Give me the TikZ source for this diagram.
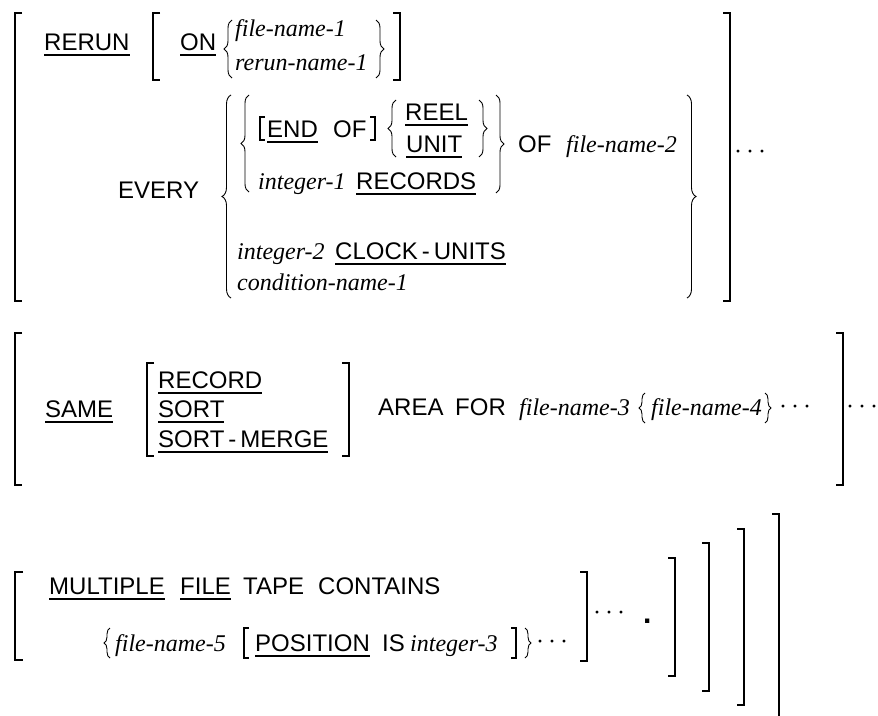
\documentclass[tikz,border=0pt]{standalone}
\usepackage{fontspec}
\setmainfont{Liberation Sans}
\newfontfamily\tmsfont{Liberation Serif}
\usetikzlibrary{decorations.pathreplacing}
\newsavebox\ulbox
\newcommand\kwu[1]{\sbox\ulbox{#1}\rlap{\rule[-5.5pt]{\wd\ulbox}{1.2pt}}\usebox\ulbox}
\newcommand\var[1]{{\tmsfont\itshape #1}}
\newcommand\contdots{{\tmsfont ·\kern4pt·\kern4pt·}}
\tikzset{
  t/.style={inner sep=0pt, anchor=base west, font=\fontsize{24}{28}\selectfont},
  brk/.style={line width=1.1pt, line join=miter},
  brc/.style={line width=0.9pt, decorate, decoration={brace, amplitude=#1}},
  brc/.default=8pt
}
\begin{document}
\begin{tikzpicture}[x=1pt,y=-1pt]
\useasboundingbox (0,0) rectangle (878,715);
% ---------- block 1 ----------
\draw[brk] (22,13) -- (15,13) -- (15,301) -- (22,301);
\draw[brk] (723,13) -- (730,13) -- (730,301) -- (723,301);
\node[t] (dots1) at (734,159) {\contdots};
\node[t] (rerun) at (44,50) {\kwu{RERUN}};
\draw[brk] (160,13) -- (153,13) -- (153,80) -- (160,80);
\node[t] (on) at (180,50) {\kwu{ON}};
\draw[brc=8pt] (232,78) -- (232,20);
\node[t] (fn1) at (235,36) {\var{file-name-1}};
\node[t] (rn1) at (235,70) {\var{rerun-name-1}};
\draw[brc=8pt] (376,20) -- (376,78);
\draw[brk] (393,13) -- (400,13) -- (400,80) -- (393,80);
\node[t] (every) at (118,198) {EVERY};
\draw[brc=9pt] (231,298) -- (231,95);
\draw[brc=8pt] (249,192) -- (249,95);
\draw[brk] (265,117) -- (260,117) -- (260,140) -- (265,140);
\node[t] (end) at (267,137) {\kwu{END}};
\node[t] (of1) at (333,137) {OF};
\draw[brk] (370,117) -- (375,117) -- (375,140) -- (370,140);
\draw[brc=8pt] (396,157) -- (396,100);
\node[t] (reel) at (405,120) {\kwu{REEL}};
\node[t] (unit) at (406,152) {\kwu{UNIT}};
\draw[brc=8pt] (479,100) -- (479,157);
\node[t] (int1) at (258,189) {\var{integer-1}};
\node[t] (records) at (356,189) {\kwu{RECORDS}};
\draw[brc=8pt] (496,95) -- (496,193);
\node[t] (of2) at (518,152) {OF};
\node[t] (fn2) at (566,152) {\var{file-name-2}};
\node[t] (int2) at (237,259) {\var{integer-2}};
\node[t] (clock) at (335,259) {\kwu{CLOCK\,-\,UNITS}};
\node[t] (cond) at (237,290) {\var{condition-name-1}};
\draw[brc=9pt] (687,95) -- (687,298);
% ---------- block 2 ----------
\draw[brk] (22,333) -- (15,333) -- (15,485) -- (22,485);
\draw[brk] (836,333) -- (843,333) -- (843,485) -- (836,485);
\node[t] (same) at (45,417) {\kwu{SAME}};
\draw[brk] (154,363) -- (147,363) -- (147,456) -- (154,456);
\node[t] (record) at (158,388) {\kwu{RECORD}};
\node[t] (sort) at (158,417) {\kwu{SORT}};
\node[t] (sortm) at (158,447) {\kwu{SORT\,-\,MERGE}};
\draw[brk] (342,363) -- (349,363) -- (349,456) -- (342,456);
\node[t] (area) at (378,415) {AREA};
\node[t] (for) at (455,415) {FOR};
\node[t] (fn3) at (519,415) {\var{file-name-3}};
\draw[brc=6pt] (645,423) -- (645,393);
\node[t] (fn4) at (651,415) {\var{file-name-4}};
\draw[brc=6pt] (765,393) -- (765,423);
\node[t] (dots2) at (779,414) {\contdots};
\node[t] (dots3) at (846,414) {\contdots};
% ---------- block 3 ----------
\draw[brk] (23,572) -- (15,572) -- (15,660) -- (23,660);
\node[t] (mult) at (49,594) {\kwu{MULTIPLE}};
\node[t] (file) at (180,594) {\kwu{FILE}};
\node[t] (tape) at (243,594) {TAPE};
\node[t] (contains) at (318,594) {CONTAINS};
\draw[brc=6pt] (110,658) -- (110,628);
\node[t] (fn5) at (115,651) {\var{file-name-5}};
\draw[brk] (249,628) -- (244,628) -- (244,658) -- (249,658);
\node[t] (position) at (255,651) {\kwu{POSITION}};
\node[t] (is) at (382,651) {IS};
\node[t] (int3) at (410,651) {\var{integer-3}};
\draw[brk] (511,628) -- (516,628) -- (516,658) -- (511,658);
\draw[brc=6pt] (525,628) -- (525,658);
\node[t] (dots4) at (536,649) {\contdots};
\draw[brk] (580,572) -- (587,572) -- (587,661) -- (580,661);
\node[t] (dots5) at (593,620) {\contdots};
\node[t, font=\fontsize{30}{30}\selectfont\bfseries] (period) at (643,623) {.};
\draw[brk] (668,558) -- (675,558) -- (675,676) -- (668,676);
\draw[brk] (702,543) -- (709,543) -- (709,691) -- (702,691);
\draw[brk] (737,529) -- (744,529) -- (744,705) -- (737,705);
\draw[brk] (772,514) -- (779,514) -- (779,716);
\end{tikzpicture}
\end{document}
